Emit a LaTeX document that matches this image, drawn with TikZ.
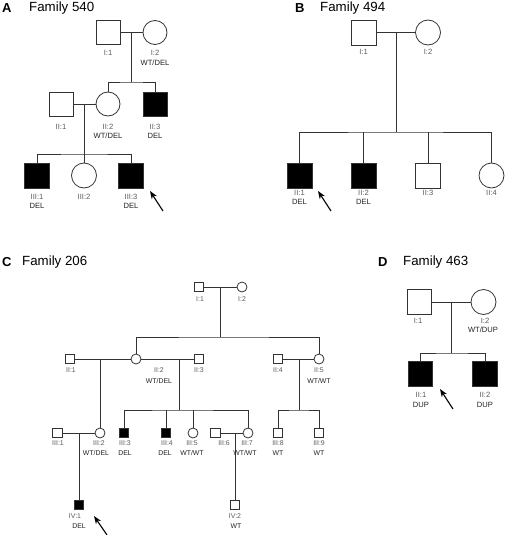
\documentclass[tikz,border=0pt]{standalone}
\usepackage{fontspec}
\setmainfont{Liberation Sans}
\usetikzlibrary{arrows.meta}
\definecolor{ln}{HTML}{333333}
\definecolor{idc}{HTML}{5A5A5A}
\definecolor{gtc}{HTML}{222222}
\tikzset{
  lnk/.style={draw=ln, line width=0.8pt},
  msq/.style={draw=ln, line width=0.8pt, rectangle, minimum size=#1, inner sep=0pt},
  fci/.style={draw=ln, line width=0.8pt, circle, minimum size=#1, inner sep=0pt},
  aff/.style={fill=black},
  idA/.style={text=idc, font=\fontsize{7.6}{8}\selectfont, inner sep=0pt},
  gtA/.style={text=gtc, font=\fontsize{7.6}{8}\selectfont, inner sep=0pt},
  idC/.style={text=idc, font=\fontsize{6.9}{7}\selectfont, inner sep=0pt},
  gtC/.style={text=gtc, font=\fontsize{6.9}{7}\selectfont, inner sep=0pt},
  ttl/.style={font=\fontsize{13.3}{14}\selectfont, inner sep=0pt, anchor=west},
  pl/.style={font=\bfseries\fontsize{13}{14}\selectfont, inner sep=0pt, anchor=west},
  proband/.style={draw=black, line width=1.1pt, -{Stealth[length=8pt,width=6pt]}}
}
\begin{document}
\begin{tikzpicture}[x=1pt,y=-1pt]
\useasboundingbox (0,0) rectangle (505,535);
% ===== Panel A =====
\node[pl] (pA) at (2,8) {A};
\node[ttl] (tA) at (29,8) {Family 540};
\node[msq=24] (A11) at (108,32.5) {};
\node[fci=24] (A12) at (155,32.5) {};
\coordinate (Am1) at (131,32.5);
\coordinate (As1) at (131,82);
\draw[lnk] (A11.east) -- (A12.west);
\draw[lnk] (Am1) -- (As1);
\node[msq=24] (A21) at (61,104) {};
\node[fci=24] (A22) at (108,104) {};
\node[msq=24,aff] (A23) at (155,104) {};
\draw[lnk] (A22.north) |- (As1) -| (A23.north);
\draw[lnk] (A21.east) -- (A22.west);
\coordinate (Am2) at (84,104);
\coordinate (As2) at (84,154);
\node[msq=25,aff] (A31) at (37,175.5) {};
\node[fci=25] (A32) at (84,175.5) {};
\node[msq=25,aff] (A33) at (131,175.5) {};
\draw[lnk] (Am2) -- (A32.north);
\draw[lnk] (A31.north) |- (As2) -| (A33.north);
\node[idA] (lA11) at (108,53) {I:1};
\node[idA] (lA12) at (155,53) {I:2};
\node[gtA] (gA12) at (155,62.5) {WT/DEL};
\node[idA] (lA21) at (61,127) {II:1};
\node[idA] (lA22) at (108,127) {II:2};
\node[gtA] (gA22) at (108,136) {WT/DEL};
\node[idA] (lA23) at (155,127) {II:3};
\node[gtA] (gA23) at (155,136) {DEL};
\node[idA] (lA31) at (37,197) {III:1};
\node[gtA] (gA31) at (37,206) {DEL};
\node[idA] (lA32) at (84,197) {III:2};
\node[idA] (lA33) at (131,197) {III:3};
\node[gtA] (gA33) at (131,206) {DEL};
\coordinate (arA0) at (163,211);
\coordinate (arA1) at (150,191);
\draw[proband] (arA0) -- (arA1);
% ===== Panel B =====
\node[pl] (pB) at (295,8) {B};
\node[ttl] (tB) at (320,8) {Family 494};
\node[msq=25] (B11) at (363.5,32.5) {};
\node[fci=25] (B12) at (428,32.5) {};
\coordinate (Bm) at (396,32.5);
\coordinate (Bs) at (396,132);
\draw[lnk] (B11.east) -- (B12.west);
\draw[lnk] (Bm) -- (Bs);
\node[msq=25,aff] (B21) at (299.5,175.5) {};
\node[msq=25,aff] (B22) at (363.5,175.5) {};
\node[msq=25] (B23) at (428,175.5) {};
\node[fci=25] (B24) at (491.5,175.5) {};
\draw[lnk] (B21.north) |- (Bs) -| (B24.north);
\draw[lnk] (B22.north) -- (B22.north |- Bs);
\draw[lnk] (B23.north) -- (B23.north |- Bs);
\node[idA] (lB11) at (363.5,52) {I:1};
\node[idA] (lB12) at (428,52) {I:2};
\node[idA] (lB21) at (299.5,193) {II:1};
\node[gtA] (gB21) at (299.5,202) {DEL};
\node[idA] (lB22) at (363.5,193) {II:2};
\node[gtA] (gB22) at (363.5,202) {DEL};
\node[idA] (lB23) at (428,193) {II:3};
\node[idA] (lB24) at (491.5,193) {II:4};
\coordinate (arB0) at (331,211);
\coordinate (arB1) at (318,191);
\draw[proband] (arB0) -- (arB1);
% ===== Panel C =====
\node[pl] (pC) at (2,262) {C};
\node[ttl] (tC) at (22,262) {Family 206};
\node[msq=9.5] (C11) at (199,287) {};
\node[fci=10] (C12) at (242,287) {};
\coordinate (Cm) at (220,287);
\coordinate (Cs) at (220,337);
\draw[lnk] (C11.east) -- (C12.west);
\draw[lnk] (Cm) -- (Cs);
\node[msq=9.5] (C21) at (70,359) {};
\node[fci=10] (C22) at (136,359) {};
\node[msq=9.5] (C23) at (199,359) {};
\node[msq=9.5] (C24) at (278,359) {};
\node[fci=10] (C25) at (319,359) {};
\draw[lnk] (C22.north) |- (Cs) -| (C25.north);
\draw[lnk] (C21.east) -- (C22.west);
\draw[lnk] (C22.east) -- (C23.west);
\draw[lnk] (C24.east) -- (C25.west);
\coordinate (Cd1) at (100,359);
\coordinate (Cd2) at (179,359);
\coordinate (Cs2) at (179,410);
\coordinate (Cd3) at (299,359);
\coordinate (Cs3) at (299,410);
\node[msq=9.5] (C31) at (57.5,433) {};
\node[fci=10] (C32) at (100,433) {};
\node[msq=9.5,aff] (C33) at (124,433) {};
\node[msq=9.5,aff] (C34) at (166,433) {};
\node[fci=10] (C35) at (193,433) {};
\node[msq=9.5] (C36) at (215.5,433) {};
\node[fci=10] (C37) at (248,433) {};
\node[msq=9.5] (C38) at (278,433) {};
\node[msq=9.5] (C39) at (319,433) {};
\draw[lnk] (Cd1) -- (C32.north);
\draw[lnk] (Cd2) -- (Cs2);
\draw[lnk] (Cd3) -- (Cs3);
\draw[lnk] (C33.north) |- (Cs2) -| (C37.north);
\draw[lnk] (C34.north) -- (C34.north |- Cs2);
\draw[lnk] (C35.north) -- (C35.north |- Cs2);
\draw[lnk] (C38.north) |- (Cs3) -| (C39.north);
\draw[lnk] (C31.east) -- (C32.west);
\draw[lnk] (C36.east) -- (C37.west);
\coordinate (Cd4) at (79,433);
\coordinate (Cd5) at (235,433);
\node[msq=9.5,aff] (C41) at (79,505) {};
\node[msq=9.5] (C42) at (235,505) {};
\draw[lnk] (Cd4) -- (C41.north);
\draw[lnk] (Cd5) -- (C42.north);
\node[idC] (lC11) at (200,299) {I:1};
\node[idC] (lC12) at (242,299) {I:2};
\node[idC] (lC21) at (71,370.5) {II:1};
\node[idC] (lC22) at (159,370.5) {II:2};
\node[gtC] (gC22) at (159,381) {WT/DEL};
\node[idC] (lC23) at (199,370.5) {II:3};
\node[idC] (lC24) at (278,370.5) {II:4};
\node[idC] (lC25) at (319,370.5) {II:5};
\node[gtC] (gC25) at (319,381) {WT/WT};
\node[idC] (lC31) at (58,443.5) {III:1};
\node[idC] (lC32) at (99,443.5) {III:2};
\node[gtC] (gC32) at (96,453) {WT/DEL};
\node[idC] (lC33) at (125,443.5) {III:3};
\node[gtC] (gC33) at (125,453) {DEL};
\node[idC] (lC34) at (167,443.5) {III:4};
\node[gtC] (gC34) at (165,453) {DEL};
\node[idC] (lC35) at (192,443.5) {III:5};
\node[gtC] (gC35) at (192,453) {WT/WT};
\node[idC] (lC36) at (224,443.5) {III:6};
\node[idC] (lC37) at (247,443.5) {III:7};
\node[gtC] (gC37) at (245,453) {WT/WT};
\node[idC] (lC38) at (278,443.5) {III:8};
\node[gtC] (gC38) at (278,453) {WT};
\node[idC] (lC39) at (319,443.5) {III:9};
\node[gtC] (gC39) at (319,453) {WT};
\node[idC] (lC41) at (75,516) {IV:1};
\node[gtC] (gC41) at (79,526) {DEL};
\node[idC] (lC42) at (235,516) {IV:2};
\node[gtC] (gC42) at (236,526) {WT};
\coordinate (arC0) at (107,535);
\coordinate (arC1) at (94,516);
\draw[proband] (arC0) -- (arC1);
% ===== Panel D =====
\node[pl] (pD) at (378,262) {D};
\node[ttl] (tD) at (403,262) {Family 463};
\node[msq=24.5] (D11) at (419.5,302) {};
\node[fci=25] (D12) at (483.5,302) {};
\coordinate (Dm) at (451,302);
\coordinate (Ds) at (451,353);
\draw[lnk] (D11.east) -- (D12.west);
\draw[lnk] (Dm) -- (Ds);
\node[msq=24.5,aff] (D21) at (420.5,374) {};
\node[msq=24.5,aff] (D22) at (485,374) {};
\draw[lnk] (D21.north) |- (Ds) -| (D22.north);
\node[idA] (lD11) at (418,321) {I:1};
\node[idA] (lD12) at (485,321) {I:2};
\node[gtA] (gD12) at (483,330) {WT/DUP};
\node[idA] (lD21) at (421,395) {II:1};
\node[gtA] (gD21) at (421,405) {DUP};
\node[idA] (lD22) at (485,395) {II:2};
\node[gtA] (gD22) at (485,405) {DUP};
\coordinate (arD0) at (453,409);
\coordinate (arD1) at (440,389);
\draw[proband] (arD0) -- (arD1);
\end{tikzpicture}
\end{document}
